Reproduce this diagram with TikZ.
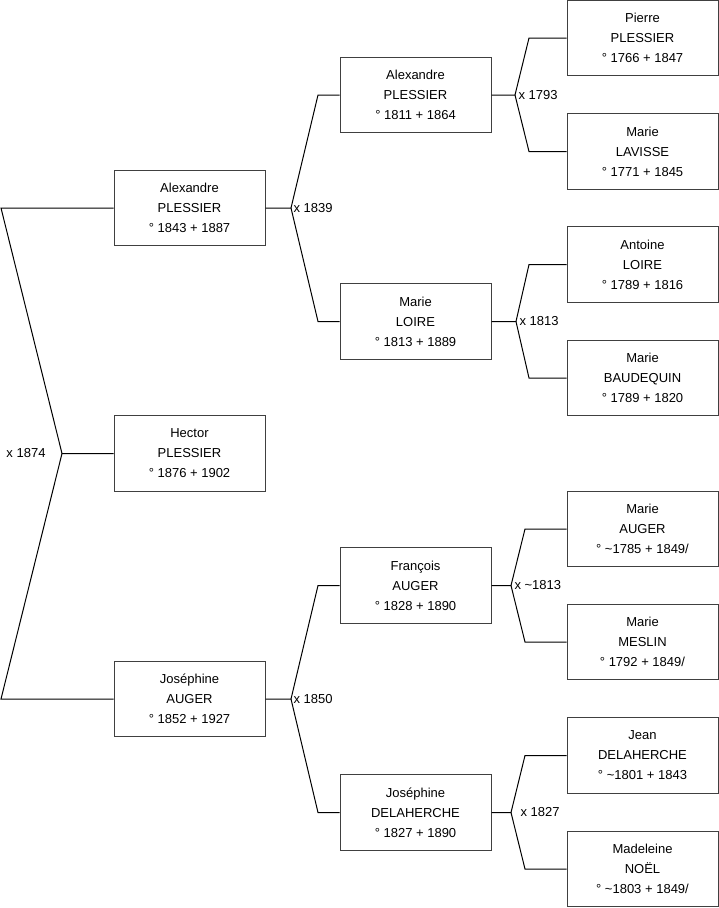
\documentclass[tikz,border=0pt]{standalone}
\usepackage{fontspec}
\setmainfont{Liberation Sans}
\begin{document}
\begin{tikzpicture}[x=1pt,y=-1pt,line width=1pt,
  person/.style={draw=black!75, fill=white, minimum width=151pt, minimum height=75.5pt,
    inner sep=0pt, align=center, font=\fontsize{13}{20}\selectfont},
  lab/.style={inner sep=0pt, font=\fontsize{13}{16}\selectfont},
  link/.style={draw=black, line width=1pt}]
\useasboundingbox (0,0) rectangle (719,908);
% generation 1
\node[person] (a) at (189.5,208) {Alexandre\\PLESSIER\\° 1843 + 1887};
\node[person] (h) at (189.5,453.5) {Hector\\PLESSIER\\° 1876 + 1902};
\node[person] (j) at (189.5,699) {Joséphine\\AUGER\\° 1852 + 1927};
% generation 2
\node[person] (b1) at (415.5,95) {Alexandre\\PLESSIER\\° 1811 + 1864};
\node[person] (b2) at (415.5,321.5) {Marie\\LOIRE\\° 1813 + 1889};
\node[person] (b3) at (415.5,585.5) {François\\AUGER\\° 1828 + 1890};
\node[person] (b4) at (415.5,812.5) {Joséphine\\DELAHERCHE\\° 1827 + 1890};
% generation 3
\node[person] (c1) at (642.5,38) {Pierre\\PLESSIER\\° 1766 + 1847};
\node[person] (c2) at (642.5,151.5) {Marie\\LAVISSE\\° 1771 + 1845};
\node[person] (c3) at (642.5,264.5) {Antoine\\LOIRE\\° 1789 + 1816};
\node[person] (c4) at (642.5,378) {Marie\\BAUDEQUIN\\° 1789 + 1820};
\node[person] (c5) at (642.5,529) {Marie\\AUGER\\° \textasciitilde1785 + 1849/};
\node[person] (c6) at (642.5,642) {Marie\\MESLIN\\° 1792 + 1849/};
\node[person] (c7) at (642.5,755.5) {Jean\\DELAHERCHE\\° \textasciitilde1801 + 1843};
\node[person] (c8) at (642.5,869) {Madeleine\\NOËL\\° \textasciitilde1803 + 1849/};
% root fork
\coordinate (r1) at (1,208);
\coordinate (r2) at (62,453.5);
\coordinate (r3) at (1,699);
\draw[link] (a.west) -- (r1) -- (r2) -- (h.west);
\draw[link] (r2) -- (r3) -- (j.west);
\node[lab,anchor=east] (l0) at ([xshift=-16pt]r2) {x 1874};
% fork k1
\coordinate (k1) at (291,208);
\coordinate (k1t) at (318,95);
\coordinate (k1b) at (318,321.5);
\draw[link] (a.east) -- (k1) -- (k1t) -- (b1.west);
\draw[link] (k1) -- (k1b) -- (b2.west);
\node[lab,anchor=west] (l1) at ([xshift=2pt]k1) {x 1839};
% fork k2
\coordinate (k2) at (291,699);
\coordinate (k2t) at (318,585.5);
\coordinate (k2b) at (318,812.5);
\draw[link] (j.east) -- (k2) -- (k2t) -- (b3.west);
\draw[link] (k2) -- (k2b) -- (b4.west);
\node[lab,anchor=west] (l2) at ([xshift=2pt]k2) {x 1850};
% fork k3
\coordinate (k3) at (515,95);
\coordinate (k3t) at (529,38);
\coordinate (k3b) at (529,151.5);
\draw[link] (b1.east) -- (k3) -- (k3t) -- (c1.west);
\draw[link] (k3) -- (k3b) -- (c2.west);
\node[lab,anchor=west] (l3) at ([xshift=3pt]k3) {x 1793};
% fork k4
\coordinate (k4) at (516,321.5);
\coordinate (k4t) at (529,264.5);
\coordinate (k4b) at (529,378);
\draw[link] (b2.east) -- (k4) -- (k4t) -- (c3.west);
\draw[link] (k4) -- (k4b) -- (c4.west);
\node[lab,anchor=west] (l4) at ([xshift=3pt]k4) {x 1813};
% fork k5
\coordinate (k5) at (511,585.5);
\coordinate (k5t) at (525,529);
\coordinate (k5b) at (525,642);
\draw[link] (b3.east) -- (k5) -- (k5t) -- (c5.west);
\draw[link] (k5) -- (k5b) -- (c6.west);
\node[lab,anchor=west] (l5) at ([xshift=3pt]k5) {x \textasciitilde1813};
% fork k6
\coordinate (k6) at (511,812.5);
\coordinate (k6t) at (525,755.5);
\coordinate (k6b) at (525,869);
\draw[link] (b4.east) -- (k6) -- (k6t) -- (c7.west);
\draw[link] (k6) -- (k6b) -- (c8.west);
\node[lab,anchor=west] (l6) at ([xshift=9pt]k6) {x 1827};
\end{tikzpicture}
\end{document}
